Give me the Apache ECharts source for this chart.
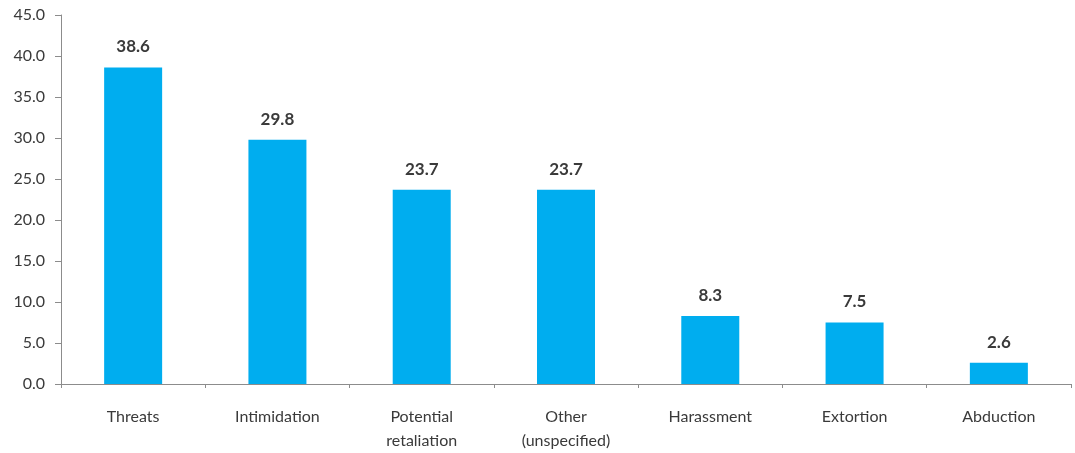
<!DOCTYPE html>
<html>
<head>
<meta charset="utf-8">
<script src="https://cdn.jsdelivr.net/npm/echarts@6/dist/echarts.min.js"></script>
<style>
  html, body { margin: 0; padding: 0; background: #fff; }
  #chart { width: 1075px; height: 453px; }
</style>
</head>
<body>
<div id="chart"></div>
<script>
const categories = ['Threats', 'Intimidation', 'Potential\nretaliation', 'Other\n(unspecified)', 'Harassment', 'Extortion', 'Abduction'];
const values = [38.6, 29.8, 23.7, 23.7, 8.3, 7.5, 2.6];

const textColor = '#3a3a3a';
const font = 'Lato';
const chart = echarts.init(document.getElementById('chart'));
chart.setOption({
  animation: false,
  grid: { left: 61, right: 4, top: 15, bottom: 68 },
  xAxis: {
    type: 'category',
    data: categories,
    axisLine: { lineStyle: { color: '#8c8c8c', width: 1 } },
    axisTick: { show: true, length: 4, lineStyle: { color: '#8c8c8c' } },
    axisLabel: { color: textColor, fontFamily: font, fontSize: 16, margin: 21, lineHeight: 24 }
  },
  yAxis: {
    type: 'value',
    min: 0, max: 45, interval: 5,
    splitLine: { show: false },
    axisLine: { show: true, lineStyle: { color: '#8c8c8c', width: 1 } },
    axisTick: { show: true, length: 6, lineStyle: { color: '#8c8c8c' } },
    axisLabel: { color: textColor, fontFamily: font, fontSize: 16, margin: 16,
      formatter: v => v.toFixed(1) }
  },
  series: [{
    type: 'bar',
    data: values,
    barWidth: 58,
    itemStyle: { color: '#00ADEF' },
    label: {
      show: true, position: 'top', distance: 12,
      color: textColor, fontFamily: font, fontSize: 17, fontWeight: 'bold',
      formatter: p => p.value.toFixed(1)
    }
  }]
});
</script>
</body>
</html>
